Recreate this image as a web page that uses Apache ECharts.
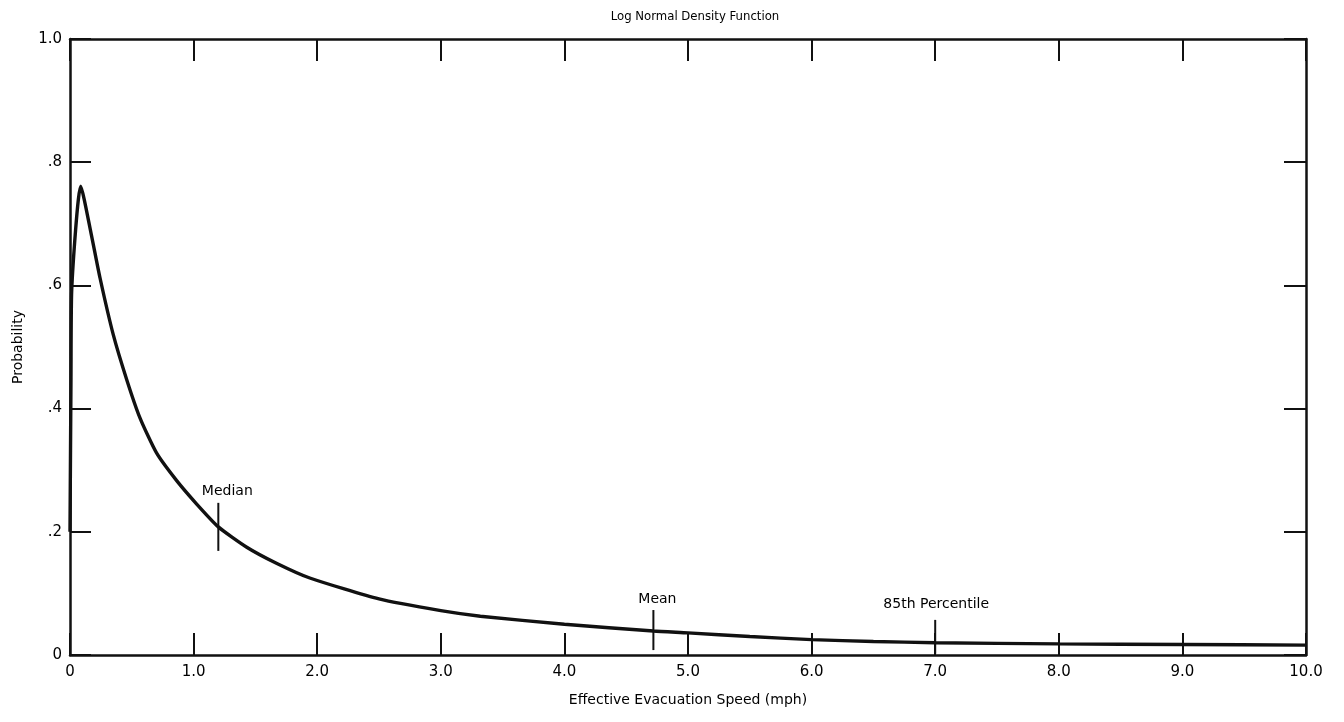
<!DOCTYPE html>
<html>
<head>
<meta charset="utf-8">
<title>Log Normal Density Function</title>
<script src="https://cdn.jsdelivr.net/npm/echarts@6/dist/echarts.min.js"></script>
<style>
  html, body { margin: 0; padding: 0; background: #fff; }
  #chart { width: 1344px; height: 722px; }
</style>
</head>
<body>
<div id="chart"></div>
<script>
// Effective evacuation speed (mph) and the density value at each speed
const speed = [0, 0.008, 0.014, 0.087, 0.17, 0.243, 0.35, 0.459, 0.566, 0.70, 0.863, 1.025, 1.2, 1.43, 1.67, 1.94, 2.5, 3.0, 3.32, 4.0, 4.72, 5.0, 5.5, 6.0, 6.5, 7.0, 8.0, 9.0, 10.0];
const prob  = [0.2, 0.45, 0.593, 0.761, 0.685, 0.612, 0.52, 0.447, 0.385, 0.328, 0.283, 0.245, 0.208, 0.175, 0.149, 0.125, 0.091, 0.072, 0.063, 0.05, 0.039, 0.036, 0.03, 0.025, 0.022, 0.02, 0.018, 0.017, 0.016];

// Reference markers: speed, bottom and top of each vertical stroke, label
const markerNames = ['Median', 'Mean', '85th Percentile'];
const markerSpeed = [1.2, 4.72, 7.0];
const markerLow   = [0.169, 0.008, 0.002];
const markerHigh  = [0.247, 0.073, 0.057];

// Axis tick labels
const xTickLabels = ['0', '1.0', '2.0', '3.0', '4.0', '5.0', '6.0', '7.0', '8.0', '9.0', '10.0'];
const yTickLabels = ['0', '.2', '.4', '.6', '.8', '1.0'];

const FONT = '"DejaVu Sans", "Liberation Sans", Arial, sans-serif';
const TITLE_FONT = '"Liberation Sans Narrow", "DejaVu Sans Condensed", "Liberation Sans", sans-serif';
const INK = '#111';

const chart = echarts.init(document.getElementById('chart'), null, { renderer: 'canvas' });

const curve = speed.map((s, i) => [s, prob[i]]);

// one vertical stroke per marker, its name written above the top end
const labelShift = [[9, 0], [4, 0], [1, -5]];
const markerStrokes = markerNames.map((name, i) => ({
  type: 'line',
  name: name,
  silent: true,
  symbol: 'none',
  lineStyle: { color: INK, width: 2 },
  data: [[markerSpeed[i], markerLow[i]], [markerSpeed[i], markerHigh[i]]],
  markPoint: {
    silent: true,
    symbol: 'circle',
    symbolSize: 0,
    data: [{ coord: [markerSpeed[i], markerHigh[i]] }],
    label: {
      show: true,
      position: 'top',
      distance: 4,
      offset: labelShift[i],
      formatter: name,
      color: '#000',
      opacity: 1,
      fontFamily: FONT,
      fontSize: 14
    }
  },
  z: 3
}));

const frameAxis = {
  axisLine: { show: true, onZero: false, lineStyle: { color: INK, width: 2.5 } },
  splitLine: { show: false }
};

const option = {
  backgroundColor: '#fff',
  animation: false,
  title: {
    text: 'Log Normal Density Function',
    left: 690,
    textAlign: 'center',
    top: 5,
    textStyle: { fontFamily: TITLE_FONT, fontSize: 13, fontWeight: 'normal', color: '#000' }
  },
  grid: { left: 70, right: 38, top: 39, bottom: 67 },
  xAxis: [
    Object.assign({
      type: 'value', position: 'bottom', min: 0, max: 10, interval: 1,
      name: 'Effective Evacuation Speed (mph)', nameLocation: 'middle', nameGap: 38,
      nameTextStyle: { fontFamily: FONT, fontSize: 14, color: '#000' },
      axisTick: { show: true, inside: true, length: 22, lineStyle: { color: INK, width: 2 } },
      axisLabel: {
        fontFamily: FONT, fontSize: 15, color: '#000', margin: 10,
        formatter: (v) => xTickLabels[Math.round(v)]
      }
    }, frameAxis),
    Object.assign({
      type: 'value', position: 'top', min: 0, max: 10, interval: 1,
      axisTick: { show: true, inside: true, length: 22, lineStyle: { color: INK, width: 2 } },
      axisLabel: { show: false }
    }, frameAxis)
  ],
  yAxis: [
    Object.assign({
      type: 'value', position: 'left', min: 0, max: 1, interval: 0.2,
      name: 'Probability', nameLocation: 'middle', nameGap: 45, nameRotate: 90,
      nameTextStyle: { fontFamily: FONT, fontSize: 14, color: '#000' },
      axisTick: { show: true, inside: true, length: 21, lineStyle: { color: INK, width: 2 } },
      axisLabel: {
        fontFamily: FONT, fontSize: 15, color: '#000', margin: 8,
        formatter: (v) => yTickLabels[Math.round(v * 5)]
      }
    }, frameAxis),
    Object.assign({
      type: 'value', position: 'right', min: 0, max: 1, interval: 0.2,
      axisTick: { show: true, inside: true, length: 22, lineStyle: { color: INK, width: 2 } },
      axisLabel: { show: false }
    }, frameAxis)
  ],
  series: [
    {
      type: 'line',
      name: 'Log normal density',
      data: curve,
      smooth: 0.2,
      symbol: 'none',
      lineStyle: { color: INK, width: 3.4 },
      z: 4
    }
  ].concat(markerStrokes)
};

chart.setOption(option);
</script>
</body>
</html>
